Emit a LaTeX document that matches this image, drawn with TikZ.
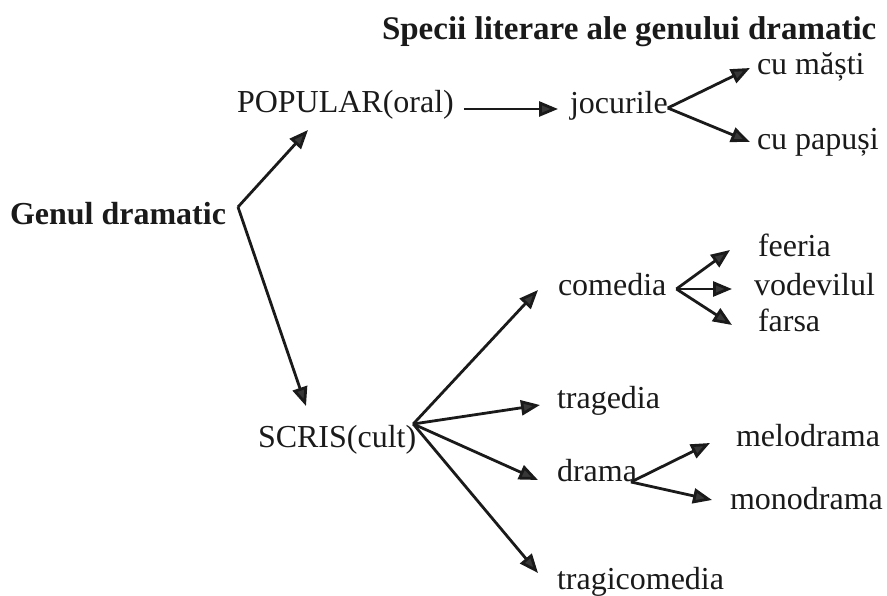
\documentclass[tikz,border=0pt]{standalone}
\usepackage{fontspec}
\setmainfont{Liberation Serif}
\usetikzlibrary{arrows.meta,calc}
\definecolor{ink}{HTML}{1A1A1A}
\definecolor{tipgray}{HTML}{383838}
\begin{document}
\begin{tikzpicture}[x=1pt,y=-1pt,
  lbl/.style={anchor=base west,inner sep=0pt,outer sep=0pt,text=ink,
              font=\fontsize{32}{38}\selectfont},
  blbl/.style={lbl,font=\fontsize{32}{38}\selectfont\bfseries},
  link/.style={draw=ink,line width=2.8pt,
               -{Triangle[length=19pt,width=15pt,fill=tipgray]}}]
\useasboundingbox (0,0) rectangle (887,596);

% labels
\node[blbl,font=\fontsize{33}{39}\selectfont\bfseries] (title) at (382,40)
  {Specii literare ale genului dramatic};
\node[blbl] (genul) at (10,225) {Genul dramatic};
\node[lbl] (popular) at (237,113) {POPULAR(oral)};
\node[lbl] (jocurile) at (570,114) {jocurile};
\node[lbl] (masti) at (757,75) {cu măști};
\node[lbl] (papusi) at (757,150) {cu papuși};
\node[lbl] (scris) at (258,447) {SCRIS(cult)};
\node[lbl] (comedia) at (558,296) {comedia};
\node[lbl] (feeria) at (758,257) {feeria};
\node[lbl] (vodevilul) at (754,296) {vodevilul};
\node[lbl] (farsa) at (758,331) {farsa};
\node[lbl] (tragedia) at (557,408) {tragedia};
\node[lbl] (drama) at (557,481) {drama};
\node[lbl] (melodrama) at (736,446) {melodrama};
\node[lbl] (monodrama) at (730,509) {monodrama};
\node[lbl] (tragicomedia) at (557,589) {tragicomedia};

% branch points
\coordinate (gj) at ($(genul.base east)+(12,-18)$);
\coordinate (jj) at ($(jocurile.base east)+(0,-6)$);
\coordinate (sj) at ($(scris.base east)+(-3,-23)$);
\coordinate (cj) at ($(comedia.base east)+(10,-7)$);
\coordinate (dj) at ($(drama.base east)+(-6,1)$);

% connectors
\draw[link] (gj) -- ($(popular.base west)+(71,17)$);
\draw[link] (gj) -- ($(scris.base west)+(48,-41)$);
\draw[link] ($(popular.base east)+(10,-4)$) -- ($(jocurile.base west)+(-12,-5)$);
\draw[link] (jj) -- ($(masti.base west)+(-7,-7)$);
\draw[link] (jj) -- ($(papusi.base west)+(-7,-8)$);
\draw[link] (sj) -- ($(comedia.base west)+(-20,-6)$);
\draw[link] (sj) -- ($(tragedia.base west)+(-17,-3)$);
\draw[link] (sj) -- ($(drama.base west)+(-19,-1)$);
\draw[link] (sj) -- ($(tragicomedia.base west)+(-19,-16)$);
\draw[link] (cj) -- ($(feeria.base west)+(-28,-7)$);
\draw[link] (cj) -- ($(vodevilul.base west)+(-22,-7)$);
\draw[link] (cj) -- ($(farsa.base west)+(-26,-6)$);
\draw[link] (dj) -- ($(melodrama.base west)+(-26,-3)$);
\draw[link] (dj) -- ($(monodrama.base west)+(-18,-9)$);
\end{tikzpicture}
\end{document}
